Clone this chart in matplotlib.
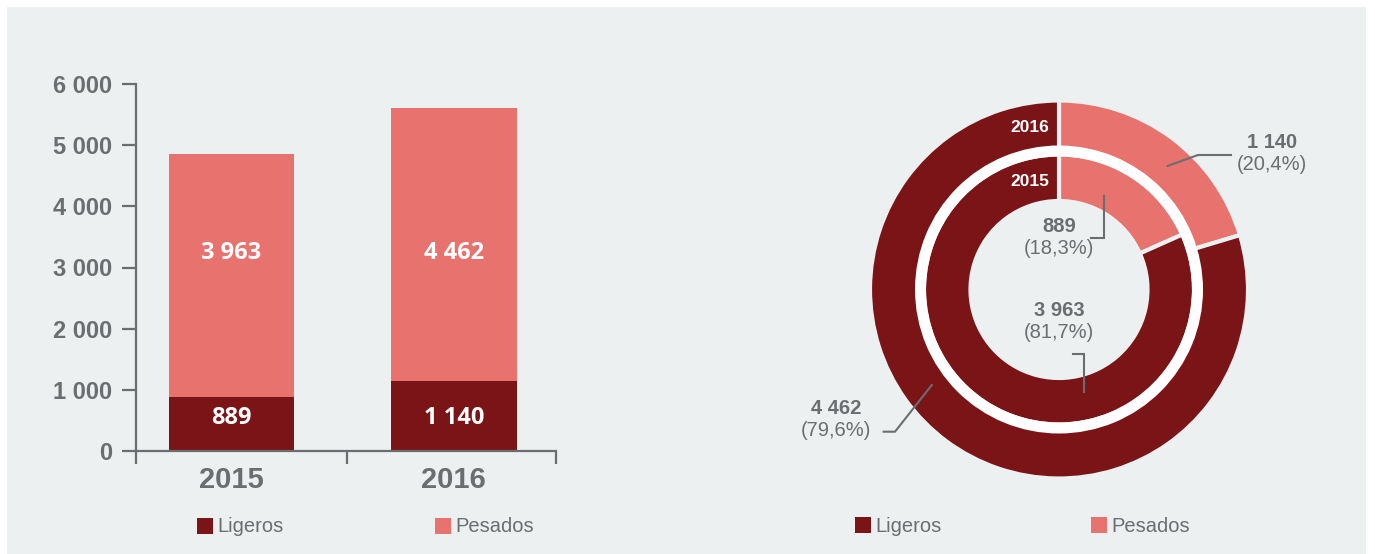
import matplotlib
matplotlib.use('Agg')
import matplotlib.pyplot as plt
from matplotlib.patches import Rectangle, Wedge

# data
years = ['2015', '2016']
ligeros = [889, 1140]
pesados = [3963, 4462]
yticks = [0, 1000, 2000, 3000, 4000, 5000, 6000]
ytick_labels = ['0', '1 000', '2 000', '3 000', '4 000', '5 000', '6 000']
series = ['Ligeros', 'Pesados']

# donut: light slice first, then dark slice (as drawn in the original)
donut_2015 = [889, 3963]
donut_2016 = [1140, 4462]
pct_2015 = ['18,3%', '81,7%']
pct_2016 = ['20,4%', '79,6%']
val_txt_2015 = ['889', '3 963']
val_txt_2016 = ['1 140', '4 462']

DARK = '#7b1416'
LIGHT = '#e8726e'
BG = '#ecf0f1'
GRAY = '#6b6e70'
W, H = 1375, 554

plt.rcParams['font.family'] = ['Liberation Sans', 'DejaVu Sans']

fig = plt.figure(figsize=(W / 100, H / 100), dpi=100)
fig.patch.set_facecolor('white')


def fx(x):
    return x / W


def fy(y):
    return 1 - y / H


# grey panel
fig.patches.append(Rectangle((fx(7), 0), fx(1366) - fx(7), fy(7), transform=fig.transFigure,
                             facecolor=BG, edgecolor='none', zorder=-10))

# ---- stacked bars ----
ax = fig.add_axes([fx(136), fy(451), 420 / W, 367 / H])
ax.set_facecolor('none')
x = [0, 1]
ax.bar(x, ligeros, width=0.565, color=DARK)
ax.bar(x, pesados, width=0.565, bottom=ligeros, color=LIGHT)
for i in range(2):
    ax.text(x[i], 540, f'{ligeros[i]:,}'.replace(',', ' '), ha='center', va='center',
            color='white', fontsize=17, fontweight='bold', family='Open Sans')
    ax.text(x[i], 3230, f'{pesados[i]:,}'.replace(',', ' '), ha='center', va='center',
            color='white', fontsize=17, fontweight='bold', family='Open Sans')

ax.set_xlim(-0.43, 1.46)
ax.set_ylim(0, 6000)
for s in ['top', 'right']:
    ax.spines[s].set_visible(False)
for s in ['left', 'bottom']:
    ax.spines[s].set_color(GRAY)
    ax.spines[s].set_linewidth(1.6)
ax.set_yticks(yticks, ytick_labels)
ax.tick_params(axis='y', length=10, width=1.6, color=GRAY, pad=7, labelsize=17,
               labelcolor=GRAY)
for t in ax.get_yticklabels():
    t.set_fontweight('bold')
ax.set_xticks(x, years)
ax.set_xticks([-0.43, 0.52, 1.46], minor=True)
ax.tick_params(axis='x', which='major', length=0, pad=11, labelsize=21, labelcolor=GRAY)
ax.tick_params(axis='x', which='minor', length=9, width=1.6, color=GRAY)
for t in ax.get_xticklabels():
    t.set_fontweight('bold')


def legend(x0, x1, y):
    for xs, name, col in [(x0, series[0], DARK), (x1, series[1], LIGHT)]:
        fig.patches.append(Rectangle((fx(xs), fy(y + 8)), 16 / W, 16 / H,
                                     transform=fig.transFigure, facecolor=col,
                                     edgecolor='none'))
        fig.text(fx(xs + 20), fy(y + 1), name, ha='left', va='center', fontsize=14.5,
                 color=GRAY)


legend(197, 435, 526)
legend(855, 1091, 525)

# ---- donut ----
cx, cy = 1059, 289.5
ax2 = fig.add_axes([fx(cx - 300), fy(cy + 240), 600 / W, 480 / H])
ax2.pie(donut_2016, radius=189, colors=[LIGHT, DARK], startangle=90, counterclock=False,
        wedgeprops=dict(width=58, edgecolor=BG, linewidth=3))
ax2.pie(donut_2015, radius=135, colors=[LIGHT, DARK], startangle=90, counterclock=False,
        wedgeprops=dict(width=46.5, edgecolor=BG, linewidth=3))
ax2.add_patch(Wedge((0, 0), 144, 0, 360, width=11, facecolor='white', edgecolor='none'))
ax2.set_xlim(-300, 300)
ax2.set_ylim(-240, 240)
ax2.set_aspect('equal')
ax2.axis('off')

ax2.text(-10, 162.5, years[1], ha='right', va='center', color='white', fontsize=12.5,
         fontweight='bold')
ax2.text(-10, 107.5, years[0], ha='right', va='center', color='white', fontsize=12.5,
         fontweight='bold')


def label(px, py, val, pct):
    ax2.text(px, py, val, ha='center', va='center', fontsize=14.5, fontweight='bold',
             color=GRAY)
    ax2.text(px, py - 22, f'({pct})', ha='center', va='center', fontsize=14.5, color=GRAY)


label(213, 146.5, val_txt_2016[0], pct_2016[0])
label(0, 62.8, val_txt_2015[0], pct_2015[0])
label(0, -20.5, val_txt_2015[1], pct_2015[1])
label(-222.6, -119.5, val_txt_2016[1], pct_2016[1])

leaders = [
    ([108.5, 139, 172], [123.5, 134.5, 134.5]),
    ([44.6, 44.6, 32], [93.5, 51.8, 51.8]),
    ([14, 24.6, 24.6], [-64.5, -64.5, -102.2]),
    ([-175.4, -164, -127.2], [-142.2, -142.2, -95.5]),
]
for lx, ly in leaders:
    ax2.plot(lx, ly, color=GRAY, lw=1.5, clip_on=False, solid_joinstyle='miter')

fig.savefig('out.png', dpi=100, facecolor=fig.get_facecolor())
